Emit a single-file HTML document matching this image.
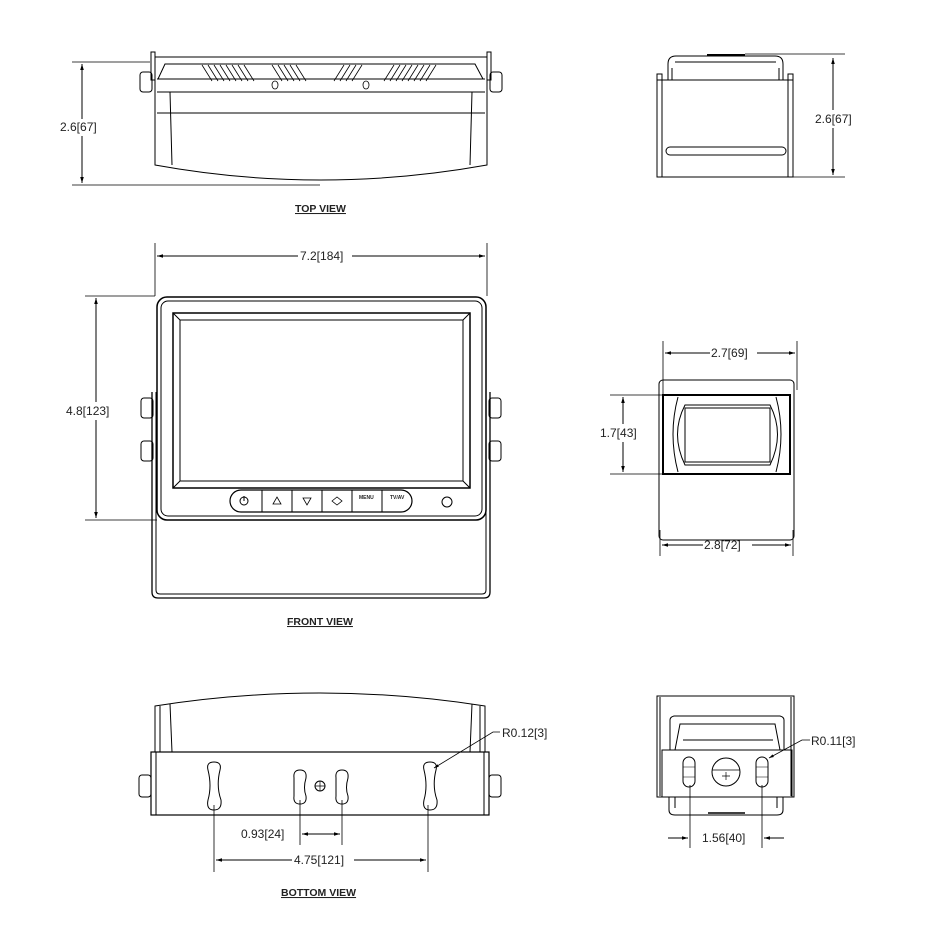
<!DOCTYPE html>
<html><head><meta charset="utf-8"><style>
html,body{margin:0;padding:0;background:#fff}
svg{display:block}
text{font-family:"Liberation Sans",sans-serif;font-size:12px;fill:#222}
.t{font-weight:bold;font-size:10.5px;text-decoration:underline}
</style></head><body>
<svg width="931" height="946" viewBox="0 0 931 946" xmlns="http://www.w3.org/2000/svg">
<defs>
<marker id="a" viewBox="0 0 10 10" refX="10" refY="5" markerWidth="8" markerHeight="6" orient="auto-start-reverse"><path d="M0,2 L10,5 L0,8z" fill="#000"/></marker>
</defs>
<g fill="none" stroke="#000" stroke-width="1">
<!-- TOP VIEW -->
<rect x="151" y="52" width="4" height="28"/><rect x="487" y="52" width="4" height="28"/>
<path d="M155,57 H487"/>
<path d="M155,80 V165 Q320,195 487,165 V80"/>
<path d="M158,79 L165,64 H475 L483,79"/>
<path d="M157,92 H485 M157,113 H485 M157,79 H485"/>
<path d="M170,92 L172,165 M472,92 L470,165"/>
<rect x="140" y="72" width="12" height="20" rx="3"/><rect x="490" y="72" width="12" height="20" rx="3"/>
<g stroke-width="0.8">
<path d="M202,65 l10,16 M208,65 l10,16 M214,65 l10,16 M220,65 l10,16 M226,65 l10,16 M232,65 l10,16 M238,65 l10,16 M244,65 l10,16 M272,65 l10,16 M278,65 l10,16 M284,65 l10,16 M290,65 l10,16 M296,65 l10,16 M334,81 l10,-16 M340,81 l10,-16 M346,81 l10,-16 M352,81 l10,-16 M384,81 l10,-16 M390,81 l10,-16 M396,81 l10,-16 M402,81 l10,-16 M408,81 l10,-16 M414,81 l10,-16 M420,81 l10,-16 M426,81 l10,-16"/>
<ellipse cx="275" cy="85" rx="3" ry="4"/><ellipse cx="366" cy="85" rx="3" ry="4"/>
</g>
<path d="M72,62 H150 M72,185 H320" stroke-width="0.8"/>
<path d="M82,64 V119 M82,136 V183" marker-start="url(#a)" marker-end="url(#a)"/>

<!-- TOP RIGHT -->
<path d="M668,80 V64 Q668,56 676,56 H775 Q783,56 783,64 V80"/>
<path d="M672,80 V68 M779,80 V68 M675,62 H776"/>
<path d="M707,55 H745" stroke-width="2"/>
<rect x="657" y="80" width="136" height="97"/>
<rect x="657" y="74" width="5" height="103"/><rect x="788" y="74" width="5" height="103"/>
<rect x="666" y="147" width="120" height="8" rx="4"/>
<path d="M745,54 H845 M793,177 H845" stroke-width="0.8"/>
<path d="M833,58 V110 M833,128 V175" marker-start="url(#a)" marker-end="url(#a)"/>

<!-- FRONT VIEW -->
<path d="M155,243 V296 M487,243 V296" stroke-width="0.8"/>
<path d="M157,256 H298 M352,256 H485" marker-start="url(#a)" marker-end="url(#a)"/>
<path d="M152,392 V592 Q152,598 158,598 H484 Q490,598 490,592 V392" stroke-width="1.3"/>
<path d="M156,392 V590 Q156,594 160,594 H482 Q486,594 486,590 V392"/>
<rect x="157" y="297" width="329" height="223" rx="10" stroke-width="1.5"/>
<rect x="161" y="301" width="321" height="215" rx="7"/>
<rect x="173" y="313" width="297" height="175" stroke-width="1.5"/>
<rect x="180" y="320" width="283" height="161"/>
<path d="M173,313 L180,320 M470,313 L463,320 M173,488 L180,481 M470,488 L463,481"/>
<rect x="230" y="490" width="182" height="22" rx="11" stroke-width="1.2"/>
<path d="M262,490 V512 M292,490 V512 M322,490 V512 M352,490 V512 M382,490 V512"/>
<circle cx="447" cy="502" r="5"/>
<circle cx="244" cy="501" r="4"/><path d="M244,496 V501"/>
<path d="M273,504 L277,497 L281,504Z M303,498 L311,498 L307,505Z" stroke-width="0.8"/>
<path d="M332,501 L337,497 L342,501 L337,505Z" stroke-width="0.8"/>
<rect x="141" y="398" width="12" height="20" rx="3"/><rect x="141" y="441" width="12" height="20" rx="3"/>
<rect x="489" y="398" width="12" height="20" rx="3"/><rect x="489" y="441" width="12" height="20" rx="3"/>
<path d="M85,296 H155 M85,520 H157" stroke-width="0.8"/>
<path d="M96,298 V402 M96,420 V518" marker-start="url(#a)" marker-end="url(#a)"/>

<!-- MID RIGHT -->
<path d="M663,341 V397 M797,341 V390" stroke-width="0.8"/>
<path d="M665,353 H710 M757,353 H795" marker-start="url(#a)" marker-end="url(#a)"/>
<rect x="659" y="380" width="135" height="160" rx="4"/>
<rect x="663" y="395" width="127" height="79" stroke-width="2"/>
<path d="M678,397 Q668,434 678,472 M776,397 Q786,434 776,472"/>
<path d="M685,405 Q670,434 685,465 H770 Q785,434 770,405Z"/>
<rect x="685" y="408" width="85" height="54"/>
<path d="M610,395 H663 M610,474 H663" stroke-width="0.8"/>
<path d="M623,397 V424 M623,442 V472" marker-start="url(#a)" marker-end="url(#a)"/>
<path d="M660,530 V556 M793,530 V556" stroke-width="0.8"/>
<path d="M662,545 H703 M752,545 H791" marker-start="url(#a)" marker-end="url(#a)"/>

<!-- BOTTOM VIEW -->
<path d="M155,752 V706 Q320,680 485,706 V752"/>
<path d="M160,752 V706 M172,752 L170,704 M470,752 L472,704 M480,752 V706"/>
<rect x="151" y="752" width="338" height="63" stroke-width="1.2"/>
<path d="M156,752 V815 M484,752 V815"/>
<rect x="139" y="775" width="12" height="22" rx="3"/><rect x="489" y="775" width="12" height="22" rx="3"/>
<path d="M208,770 Q206,762 214,762 Q222,762 220,770 Q216,786 221,800 Q222,810 214,810 Q206,810 208,800 Q212,786 208,770Z"/>
<path d="M424,770 Q422,762 430,762 Q438,762 436,770 Q432,786 437,800 Q438,810 430,810 Q422,810 424,800 Q428,786 424,770Z"/>
<path d="M294,778 Q293,770 300,770 Q307,770 306,778 Q303,788 306,796 Q307,804 300,804 Q293,804 294,796Z"/>
<path d="M336,778 Q335,770 342,770 Q349,770 348,778 Q345,788 348,796 Q349,804 342,804 Q335,804 336,796Z"/>
<circle cx="320" cy="786" r="5"/><path d="M315,786 H325 M320,781 V791" stroke-width="0.7"/>
<path d="M214,805 V872 M300,800 V845 M342,800 V845 M428,805 V872" stroke-width="0.8"/>
<path d="M302,834 H340" marker-start="url(#a)" marker-end="url(#a)"/>
<path d="M216,860 H292 M354,860 H426" marker-start="url(#a)" marker-end="url(#a)"/>
<path d="M500,732 H493 L434,768" marker-end="url(#a)" stroke-width="0.8"/>

<!-- BOTTOM RIGHT -->
<rect x="657" y="696" width="137" height="101"/>
<path d="M660,697 V796 M791,697 V796"/>
<path d="M670,750 V720 Q670,717 674,716 H780 Q784,717 784,720 V750"/>
<path d="M675,750 L680,724 H775 L780,750 M683,740 H773"/>
<rect x="662" y="750" width="130" height="47"/>
<path d="M669,797 V810 Q669,815 675,815 H777 Q783,815 783,810 V797 M675,797 V808 M777,797 V808"/>
<path d="M708,813 H745" stroke-width="1.5"/>
<rect x="683" y="757" width="12" height="30" rx="6"/><rect x="756" y="757" width="12" height="30" rx="6"/>
<path d="M683,767 H695 M683,777 H695 M756,767 H768 M756,777 H768" stroke-width="0.6"/>
<circle cx="726" cy="772" r="14"/><path d="M712,770 H740 M726,772 V780 M722,776 H730" stroke-width="0.7"/>
<path d="M690,785 V848 M762,785 V848" stroke-width="0.8"/>
<path d="M668,838 H688" marker-end="url(#a)"/><path d="M784,838 H764" marker-end="url(#a)"/>
<path d="M810,740 H802 L769,758" marker-end="url(#a)" stroke-width="0.8"/>
</g>

<text x="60" y="131">2.6[67]</text>
<text x="815" y="123">2.6[67]</text>
<text x="300" y="260">7.2[184]</text>
<text x="66" y="415">4.8[123]</text>
<text x="711" y="357">2.7[69]</text>
<text x="600" y="437">1.7[43]</text>
<text x="704" y="549">2.8[72]</text>
<text x="241" y="838">0.93[24]</text>
<text x="294" y="864">4.75[121]</text>
<text x="502" y="737">R0.12[3]</text>
<text x="811" y="745">R0.11[3]</text>
<text x="702" y="842">1.56[40]</text>
<text x="359" y="499" style="font-size:5px;font-weight:bold">MENU</text>
<text x="390" y="499" style="font-size:5px;font-weight:bold">TV/AV</text>
<text class="t" x="295" y="212">TOP VIEW</text>
<text class="t" x="287" y="625">FRONT VIEW</text>
<text class="t" x="281" y="896">BOTTOM VIEW</text>
</svg>
</body></html>
